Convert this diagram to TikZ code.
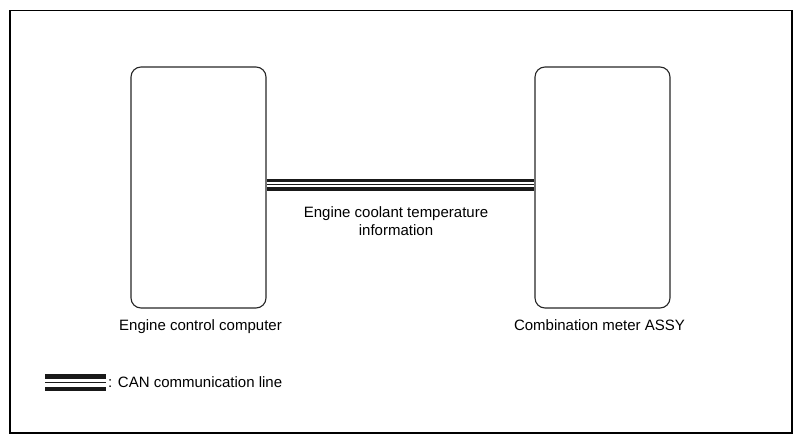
\documentclass[tikz,border=0pt]{standalone}
\usepackage{fontspec}
\setmainfont{Liberation Sans}
\usetikzlibrary{positioning}
\tikzstyle{unit} = [rectangle, rounded corners=10pt, minimum width=135pt, minimum height=241pt, draw=black!85, line width=1.1pt]
\tikzstyle{label} = [inner sep=0pt, text centered]
\tikzstyle{canouter} = [line width=11.7pt, black!90]
\tikzstyle{cangap} = [line width=5pt, white]
\tikzstyle{caninner} = [line width=1pt, black!90]
\tikzstyle{every node}=[font=\fontsize{15}{18}\selectfont]

\begin{document}
\begin{tikzpicture}[x=1pt, y=-1pt]
			\useasboundingbox (0,0) rectangle (802,444);
			%外框
			\draw [line width=1.2pt] (10,10.7) rectangle (792,433);
			%两个控制单元
			\node (ecu) [unit] at (198.5,187.5) {};
			\node (meter) [unit] at (602.5,187.5) {};
			\node (ecuname) [label, below=11pt of ecu, xshift=2pt] {Engine control computer};
			\node (metername) [label, below=11pt of meter, xshift=-3pt] {Combination meter ASSY};
			
			%CAN通信线
			\draw [canouter] ([yshift=2.7pt]ecu.east) -- ([yshift=2.7pt]meter.west);
			\draw [cangap] ([yshift=2.7pt]ecu.east) -- ([yshift=2.7pt]meter.west);
			\draw [caninner] ([yshift=2.7pt]ecu.east) -- ([yshift=2.7pt]meter.west);
			\node (info) [label, align=center, anchor=north] at (396,206.5) {Engine coolant temperature\\information};
			
			%图例
			\coordinate (legA) at (45,382.5);
			\coordinate (legB) at (106,382.5);
			\draw [canouter, line width=17pt] (legA) -- (legB);
			\draw [cangap, line width=8pt] (legA) -- (legB);
			\draw [caninner, line width=1.2pt] (legA) -- (legB);
			\node (legtext) [label, right=2pt of legB] {: CAN communication line};
		\end{tikzpicture}
\end{document}
